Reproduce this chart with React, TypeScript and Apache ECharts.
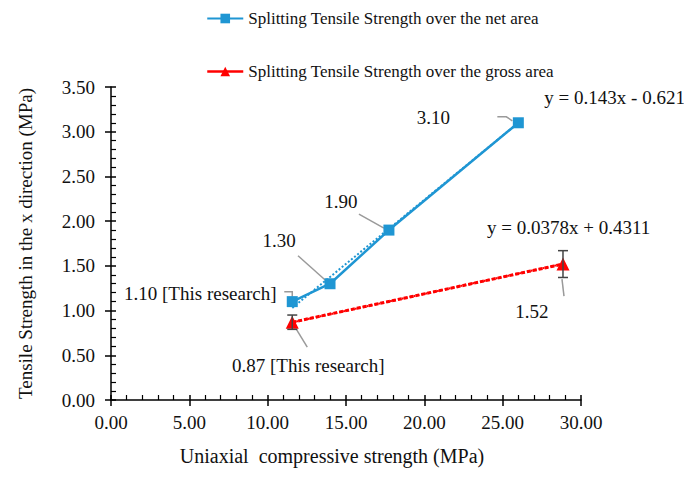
import React, { useEffect, useRef } from "react";
import * as echarts from "echarts";

const netX = [11.57, 13.98, 17.74, 26.0];
const netY = [1.1, 1.3, 1.9, 3.1];
const grossX = [11.57, 28.85];
const grossY = [0.87, 1.52];
const grossErrLow = [0.79, 1.37];
const grossErrHigh = [0.95, 1.67];
const netTrend = [[11.57, 1.03], [26.0, 3.1]];
const grossTrend = [[11.57, 0.868], [28.85, 1.522]];
const netLabels = ["1.10 [This research]", "1.30", "1.90", "3.10"];
const grossLabels = ["0.87 [This research]", "1.52"];
const netEq = "y = 0.143x - 0.621";
const grossEq = "y = 0.0378x + 0.4311";
const xTicks = [0, 5, 10, 15, 20, 25, 30];

const FONT = "Liberation Serif";
const BLUE = "#1f96d3";
const RED = "#ff0000";
const NET_NAME = "Splitting Tensile Strength over the net area";
const GROSS_NAME = "Splitting Tensile Strength over the gross area";

// label offsets (pixels, relative to point)
const netOffsets = [[-92, -8], [-51, -43], [-48, -29], [-85, -5]];
const grossOffsets = [[16, 43], [-31, 47]];
// leader polylines (pixel offsets relative to point)
const netLeaders = [
  [[-8, -10], [0, -10], [0, -5]],
  [[-32, -28], [-4, -3]],
  [[-30, -16], [-5, -2]],
  [[-21, -6], [-12, -6], [-6, -2]],
];
const grossLeaders = [
  [[15, 25], [4, 7]],
  [[1, 32], [-1, 15]],
];

export default function App() {
  const ref = useRef<HTMLDivElement>(null);
  useEffect(() => {
    if (!ref.current) return;
    const chart = echarts.init(ref.current, null, { renderer: "svg" });
    const labelStyle = { fontFamily: FONT, fontSize: 19, color: "#111" };
    const leaderSeries = (xs: number[], ys: number[], leaders: number[][][]) => ({
      type: "custom",
      silent: true,
      z: 1,
      data: xs.map((x, i) => [x, ys[i], i]),
      renderItem: (params: any, api: any) => {
        const p = api.coord([api.value(0), api.value(1)]);
        const pts = leaders[api.value(2)].map((o) => [p[0] + o[0], p[1] + o[1]]);
        return {
          type: "polyline",
          shape: { points: pts },
          style: { stroke: "#9a9a9a", lineWidth: 1.5, fill: "none" },
        };
      },
    });
    chart.setOption({
      animation: false,
      backgroundColor: "#fff",
      textStyle: { fontFamily: FONT },
      legend: {
        orient: "vertical",
        left: 198,
        top: 2,
        padding: 0,
        itemGap: 36,
        itemWidth: 36,
        itemHeight: 12,
        textStyle: { fontFamily: FONT, fontSize: 17, color: "#111" },
        data: [
          { name: NET_NAME, lineStyle: { type: "solid" } },
          { name: GROSS_NAME, lineStyle: { type: "solid", width: 2.5 } },
        ],
      },
      grid: { left: 103, right: 103, top: 79, bottom: 60 },
      xAxis: [
        {
          type: "value",
          min: 0,
          max: 30,
          interval: 5,
          name: "Uniaxial  compressive strength (MPa)",
          nameLocation: "middle",
          nameGap: 46,
          nameTextStyle: { fontFamily: FONT, fontSize: 20, color: "#111", padding: [0, 28, 0, 0] },
          axisLine: { show: true, onZero: false, lineStyle: { color: "#000", width: 1.5 } },
          axisTick: { show: true, inside: false, length: 6, lineStyle: { color: "#000", width: 1.5 } },
          minorTick: { show: false },
          splitLine: { show: false },
          axisLabel: {
            fontFamily: FONT,
            fontSize: 19,
            color: "#111",
            margin: 13,
            formatter: (v: number) => (xTicks.includes(v) ? v.toFixed(2) : ""),
          },
        },
        {
          type: "value",
          min: 0,
          max: 30,
          interval: 5,
          position: "bottom",
          axisLine: { show: false },
          axisTick: { show: true, inside: true, length: 5, lineStyle: { color: "#000", width: 1.5 } },
          minorTick: { show: true, splitNumber: 5, length: 5, lineStyle: { color: "#000", width: 1.2 } },
          splitLine: { show: false },
          axisLabel: { show: false },
        },
      ],
      yAxis: [
        {
          type: "value",
          min: 0,
          max: 3.5,
          interval: 0.5,
          name: "Tensile Strength in the x direction (MPa)",
          nameLocation: "middle",
          nameGap: 76,
          nameTextStyle: { fontFamily: FONT, fontSize: 19, color: "#111" },
          axisLine: { show: true, onZero: false, lineStyle: { color: "#000", width: 1.5 } },
          axisTick: { show: true, inside: false, length: 6, lineStyle: { color: "#000", width: 1.5 } },
          splitLine: { show: false },
          axisLabel: {
            fontFamily: FONT,
            fontSize: 19,
            color: "#111",
            margin: 16,
            formatter: (v: number) => v.toFixed(2),
          },
        },
        {
          type: "value",
          min: 0,
          max: 3.5,
          interval: 0.5,
          position: "left",
          axisLine: { show: false },
          axisTick: { show: true, inside: true, length: 5, lineStyle: { color: "#000", width: 1.5 } },
          minorTick: { show: true, splitNumber: 5, length: 5, lineStyle: { color: "#000", width: 1.2 } },
          splitLine: { show: false },
          axisLabel: { show: false },
        },
      ],
      series: [
        {
          name: NET_NAME,
          type: "line",
          data: netX.map((x, i) => [x, netY[i]]),
          color: BLUE,
          symbol: "rect",
          symbolSize: 11,
          lineStyle: { color: BLUE, width: 2.5 },
          itemStyle: { color: BLUE },
          z: 3,
          label: {
            show: true,
            position: "inside",
            ...labelStyle,
            formatter: (p: any) => netLabels[p.dataIndex],
          },
          labelLayout: (p: any) => ({ dx: netOffsets[p.dataIndex][0], dy: netOffsets[p.dataIndex][1] }),
        },
        {
          name: "netTrend",
          type: "line",
          data: netTrend,
          symbol: "none",
          lineStyle: { color: BLUE, width: 2, type: "dotted" },
          z: 2,
          silent: true,
          endLabel: {
            show: true,
            formatter: netEq,
            ...labelStyle,
            offset: [18, -25],
          },
        },
        {
          name: GROSS_NAME,
          type: "line",
          data: grossX.map((x, i) => [x, grossY[i]]),
          color: RED,
          symbol: "triangle",
          symbolSize: 13,
          lineStyle: { color: RED, width: 3, type: [4, 2] },
          itemStyle: { color: RED },
          z: 3,
          label: {
            show: true,
            position: "inside",
            ...labelStyle,
            formatter: (p: any) => grossLabels[p.dataIndex],
          },
          labelLayout: (p: any) => ({ dx: grossOffsets[p.dataIndex][0], dy: grossOffsets[p.dataIndex][1] }),
        },
        {
          name: "grossTrend",
          type: "line",
          data: grossTrend,
          symbol: "none",
          lineStyle: { color: RED, width: 2, type: "dotted" },
          z: 2,
          silent: true,
          endLabel: {
            show: true,
            formatter: grossEq,
            ...labelStyle,
            offset: [-84, -36],
          },
        },
        leaderSeries(netX, netY, netLeaders),
        leaderSeries(grossX, grossY, grossLeaders),
        {
          name: "errors",
          type: "custom",
          z: 4,
          silent: true,
          data: grossX.map((x, i) => [x, grossErrLow[i], grossErrHigh[i]]),
          renderItem: (params: any, api: any) => {
            const x = api.value(0);
            const lo = api.coord([x, api.value(1)]);
            const hi = api.coord([x, api.value(2)]);
            const w = 5;
            const st = { stroke: "#444", lineWidth: 1.5 };
            return {
              type: "group",
              children: [
                { type: "line", shape: { x1: lo[0], y1: lo[1], x2: hi[0], y2: hi[1] }, style: st },
                { type: "line", shape: { x1: lo[0] - w, y1: lo[1], x2: lo[0] + w, y2: lo[1] }, style: st },
                { type: "line", shape: { x1: hi[0] - w, y1: hi[1], x2: hi[0] + w, y2: hi[1] }, style: st },
              ],
            };
          },
        },
      ],
    });
    return () => chart.dispose();
  }, []);
  return <div ref={ref} style={{ width: 676, height: 463 }} />;
}
